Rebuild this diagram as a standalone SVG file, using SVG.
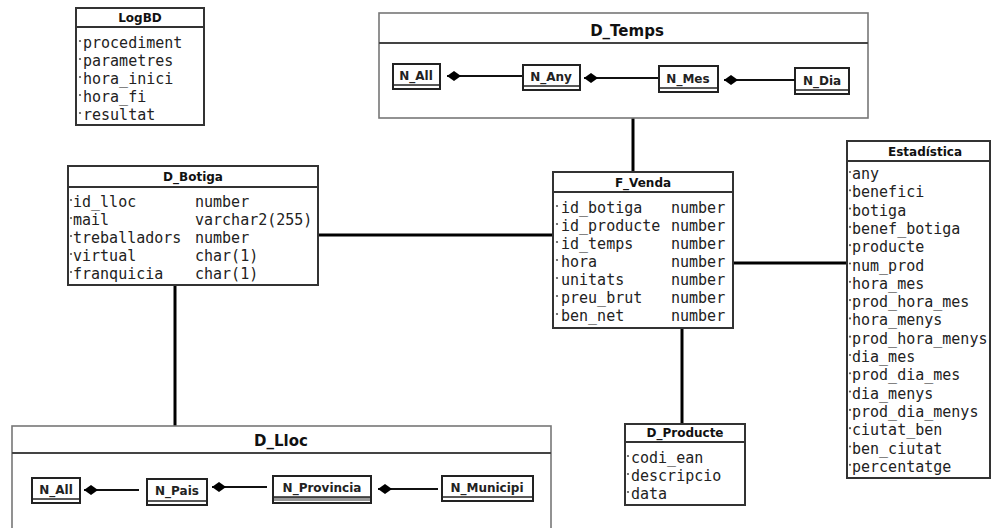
<svg xmlns="http://www.w3.org/2000/svg" width="992" height="528" viewBox="0 0 992 528">
<defs>
<style>
.box{fill:#fff;stroke:#333;stroke-width:2}
.pkg{fill:#fff;stroke:#777;stroke-width:1.6}
.sep{stroke:#333;stroke-width:2}
.psep{stroke:#444;stroke-width:2.2}
.ttl{font-family:"DejaVu Sans",sans-serif;font-weight:bold;font-size:12px;fill:#111;text-anchor:middle}
.ptl{font-family:"DejaVu Sans",sans-serif;font-weight:bold;font-size:15px;fill:#111;text-anchor:middle}
.att{font-family:"DejaVu Sans Mono",monospace;font-size:15px;fill:#222}
.est{font-family:"DejaVu Sans Mono",monospace;font-size:15px;fill:#222}
.lvl{fill:#fff;stroke:#222;stroke-width:2}
.lvb{stroke:#222;stroke-width:1.5}
.lvt{font-family:"DejaVu Sans",sans-serif;font-weight:bold;font-size:12px;fill:#222;text-anchor:middle}
.dot{fill:#555}
.con{stroke:#000;stroke-width:3;fill:none}
.agg{stroke:#111;stroke-width:2;fill:none;marker-start:url(#dia)}
</style>
<marker id="dia" markerUnits="userSpaceOnUse" viewBox="0 0 14 10" markerWidth="14" markerHeight="10" refX="0" refY="5" orient="auto">
<path d="M0,5 L7,0 L14,5 L7,10 Z" fill="#000"/>
</marker>
</defs>
<rect width="992" height="528" fill="#fff"/>

<g id="connectors">
<line class="con" x1="633" y1="118" x2="633" y2="173"/>
<line class="con" x1="318" y1="235" x2="553" y2="235"/>
<line class="con" x1="175" y1="285" x2="175" y2="426"/>
<line class="con" x1="682" y1="328" x2="682" y2="424"/>
<line class="con" x1="733" y1="263" x2="848" y2="263"/>
</g>

<g id="LogBD">
<rect class="box" x="76" y="8" width="128" height="117"/>
<line class="sep" x1="76" y1="27" x2="204" y2="27"/>
<text class="ttl" x="140" y="22">LogBD</text>
<g class="dot"><circle cx="80" cy="41" r="1.1"/><circle cx="80" cy="59" r="1.1"/><circle cx="80" cy="77" r="1.1"/><circle cx="80" cy="95" r="1.1"/><circle cx="80" cy="113" r="1.1"/></g>
<text class="att" x="83" y="48">procediment</text>
<text class="att" x="83" y="66">parametres</text>
<text class="att" x="83" y="84">hora_inici</text>
<text class="att" x="83" y="102">hora_fi</text>
<text class="att" x="83" y="120">resultat</text>
</g>

<g id="D_Temps">
<rect class="pkg" x="379" y="13" width="489" height="105"/>
<line class="psep" x1="379" y1="43" x2="868" y2="43"/>
<text class="ptl" x="627" y="36">D_Temps</text>
</g>
<g id="T_N_All">
<rect class="lvl" x="393" y="64" width="47" height="25"/>
<line class="lvb" x1="393" y1="85" x2="440" y2="85"/>
<text class="lvt" x="416" y="80">N_All</text>
</g>
<g id="T_N_Any">
<rect class="lvl" x="523" y="65" width="57" height="25"/>
<line class="lvb" x1="523" y1="86" x2="580" y2="86"/>
<text class="lvt" x="551" y="81">N_Any</text>
</g>
<g id="T_N_Mes">
<rect class="lvl" x="659" y="66" width="59" height="26"/>
<line class="lvb" x1="659" y1="88" x2="718" y2="88"/>
<text class="lvt" x="688" y="83">N_Mes</text>
</g>
<g id="T_N_Dia">
<rect class="lvl" x="795" y="68" width="54" height="26"/>
<line class="lvb" x1="795" y1="90" x2="849" y2="90"/>
<text class="lvt" x="822" y="85">N_Dia</text>
</g>
<g id="temps_links">
<path class="agg" d="M447,76 L522,76"/>
<path class="agg" d="M584,78 L658,78"/>
<path class="agg" d="M724,80 L795,80"/>
</g>

<g id="D_Botiga">
<rect class="box" x="68" y="166" width="250" height="119"/>
<line class="sep" x1="68" y1="187" x2="318" y2="187"/>
<text class="ttl" x="193" y="181">D_Botiga</text>
<g class="dot"><circle cx="71" cy="200" r="1.1"/><circle cx="71" cy="218" r="1.1"/><circle cx="71" cy="236" r="1.1"/><circle cx="71" cy="254" r="1.1"/><circle cx="71" cy="272" r="1.1"/></g>
<text class="att" x="73" y="207">id_lloc</text><text class="att" x="195" y="207">number</text>
<text class="att" x="73" y="225">mail</text><text class="att" x="195" y="225">varchar2(255)</text>
<text class="att" x="73" y="243">treballadors</text><text class="att" x="195" y="243">number</text>
<text class="att" x="73" y="261">virtual</text><text class="att" x="195" y="261">char(1)</text>
<text class="att" x="73" y="279">franquicia</text><text class="att" x="195" y="279">char(1)</text>
</g>

<g id="F_Venda">
<rect class="box" x="553" y="172" width="180" height="156"/>
<line class="sep" x1="553" y1="192" x2="733" y2="192"/>
<text class="ttl" x="643" y="187">F_Venda</text>
<g class="dot"><circle cx="557" cy="206" r="1.1"/><circle cx="557" cy="224" r="1.1"/><circle cx="557" cy="242" r="1.1"/><circle cx="557" cy="260" r="1.1"/><circle cx="557" cy="278" r="1.1"/><circle cx="557" cy="296" r="1.1"/><circle cx="557" cy="314" r="1.1"/></g>
<text class="att" x="561" y="213">id_botiga</text><text class="att" x="671" y="213">number</text>
<text class="att" x="561" y="231">id_producte</text><text class="att" x="671" y="231">number</text>
<text class="att" x="561" y="249">id_temps</text><text class="att" x="671" y="249">number</text>
<text class="att" x="561" y="267">hora</text><text class="att" x="671" y="267">number</text>
<text class="att" x="561" y="285">unitats</text><text class="att" x="671" y="285">number</text>
<text class="att" x="561" y="303">preu_brut</text><text class="att" x="671" y="303">number</text>
<text class="att" x="561" y="321">ben_net</text><text class="att" x="671" y="321">number</text>
</g>

<g id="Estadistica">
<rect class="box" x="847" y="141" width="143" height="337"/>
<line class="sep" x1="847" y1="161" x2="990" y2="161"/>
<text class="ttl" x="925" y="156">Estadística</text>
<g class="dot">
<circle cx="850" cy="172" r="1.1"/><circle cx="850" cy="190.3" r="1.1"/><circle cx="850" cy="208.6" r="1.1"/><circle cx="850" cy="226.9" r="1.1"/><circle cx="850" cy="245.2" r="1.1"/><circle cx="850" cy="263.5" r="1.1"/><circle cx="850" cy="281.8" r="1.1"/><circle cx="850" cy="300.1" r="1.1"/><circle cx="850" cy="318.4" r="1.1"/><circle cx="850" cy="336.7" r="1.1"/><circle cx="850" cy="355" r="1.1"/><circle cx="850" cy="373.3" r="1.1"/><circle cx="850" cy="391.6" r="1.1"/><circle cx="850" cy="409.9" r="1.1"/><circle cx="850" cy="428.2" r="1.1"/><circle cx="850" cy="446.5" r="1.1"/><circle cx="850" cy="464.8" r="1.1"/>
</g>
<text class="est" x="852" y="179">any</text>
<text class="est" x="852" y="197.3">benefici</text>
<text class="est" x="852" y="215.6">botiga</text>
<text class="est" x="852" y="233.9">benef_botiga</text>
<text class="est" x="852" y="252.2">producte</text>
<text class="est" x="852" y="270.5">num_prod</text>
<text class="est" x="852" y="288.8">hora_mes</text>
<text class="est" x="852" y="307.1">prod_hora_mes</text>
<text class="est" x="852" y="325.4">hora_menys</text>
<text class="est" x="852" y="343.7">prod_hora_menys</text>
<text class="est" x="852" y="362">dia_mes</text>
<text class="est" x="852" y="380.3">prod_dia_mes</text>
<text class="est" x="852" y="398.6">dia_menys</text>
<text class="est" x="852" y="416.9">prod_dia_menys</text>
<text class="est" x="852" y="435.2">ciutat_ben</text>
<text class="est" x="852" y="453.5">ben_ciutat</text>
<text class="est" x="852" y="471.8">percentatge</text>
</g>

<g id="D_Producte">
<rect class="box" x="625" y="424" width="120" height="81"/>
<line class="sep" x1="625" y1="442" x2="745" y2="442"/>
<text class="ttl" x="685" y="437">D_Producte</text>
<g class="dot"><circle cx="628" cy="456" r="1.1"/><circle cx="628" cy="474" r="1.1"/><circle cx="628" cy="492" r="1.1"/></g>
<text class="att" x="631" y="463">codi_ean</text>
<text class="att" x="631" y="481">descripcio</text>
<text class="att" x="631" y="499">data</text>
</g>

<g id="D_Lloc">
<rect class="pkg" x="12" y="426" width="539" height="110"/>
<line class="psep" x1="12" y1="453" x2="551" y2="453"/>
<text class="ptl" x="281" y="446">D_Lloc</text>
</g>
<g id="L_N_All">
<rect class="lvl" x="32" y="478" width="48" height="25"/>
<line class="lvb" x1="32" y1="499" x2="80" y2="499"/>
<text class="lvt" x="56" y="494">N_All</text>
</g>
<g id="L_N_Pais">
<rect class="lvl" x="147" y="479" width="60" height="26"/>
<line class="lvb" x1="147" y1="501" x2="207" y2="501"/>
<text class="lvt" x="177" y="495">N_Pais</text>
</g>
<g id="L_N_Provincia">
<rect class="lvl" x="273" y="476" width="98" height="27"/>
<rect x="274" y="497" width="96" height="4" fill="#999"/>
<line class="lvb" x1="273" y1="497" x2="371" y2="497"/>
<text class="lvt" x="322" y="492">N_Provincia</text>
</g>
<g id="L_N_Municipi">
<rect class="lvl" x="442" y="476" width="91" height="25"/>
<line class="lvb" x1="442" y1="497" x2="533" y2="497"/>
<text class="lvt" x="487" y="492">N_Municipi</text>
</g>
<g id="lloc_links">
<path class="agg" d="M84,490 L139,490"/>
<path class="agg" d="M212,487 L267,487"/>
<path class="agg" d="M378,489 L438,489"/>
</g>
</svg>
